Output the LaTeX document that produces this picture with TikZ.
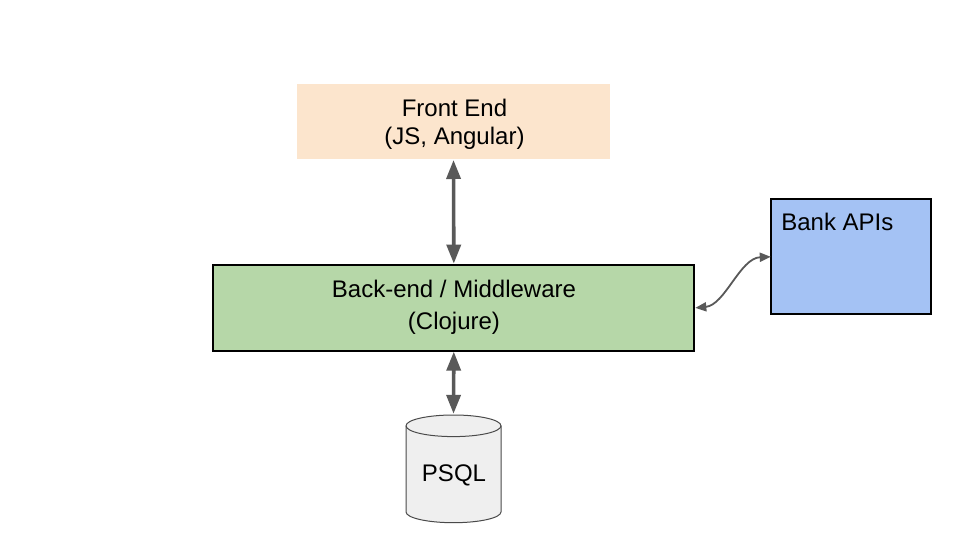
\documentclass[tikz,border=0pt]{standalone}
\usepackage{fontspec}
\setmainfont{Liberation Sans}
\usetikzlibrary{arrows.meta}
\definecolor{fecol}{HTML}{FCE5CD}
\definecolor{becol}{HTML}{B6D7A8}
\definecolor{bankcol}{HTML}{A4C2F4}
\definecolor{dbcol}{HTML}{EFEFEF}
\definecolor{arrcol}{HTML}{595959}
\definecolor{dbline}{HTML}{4A4A4A}
\tikzset{
  boxnode/.style={rectangle, inner sep=0pt, outer sep=0pt},
  txt/.style={inner sep=0pt, outer sep=0pt, font=\fontsize{24}{28}\selectfont, text=black},
  bigarrow/.style={draw=arrcol, line width=3.6pt, {Triangle[length=19pt,width=14pt]}-{Triangle[length=19pt,width=14pt]}},
  smallarrow/.style={draw=arrcol, line width=1.8pt, {Triangle[length=11pt,width=9pt]}-{Triangle[length=11pt,width=9pt]}},
}
\begin{document}
\begin{tikzpicture}[x=1pt,y=-1pt]
\useasboundingbox[fill=white] (0,0) rectangle (960,540);
% Front end
\node[boxnode, fill=fecol, minimum width=313pt, minimum height=75pt] (fe) at (453.5,121.5) {};
\node[txt, anchor=base] (fet1) at (454.5,116.7) {Front End};
\node[txt, anchor=base] (fet2) at (454.5,145) {(JS, Angular)};
% Back end
\node[boxnode, fill=becol, draw=black, line width=2pt, minimum width=481pt, minimum height=85.5pt] (be) at (453.8,307.9) {};
\node[txt, anchor=base] (bet1) at (454,297.7) {Back-end / Middleware};
\node[txt, anchor=base] (bet2) at (454,329.5) {(Clojure)};
% Bank APIs
\node[boxnode, fill=bankcol, draw=black, line width=2pt, minimum width=160pt, minimum height=115pt] (bank) at (850.8,256.8) {};
\node[txt, anchor=base west] (bankt) at (781.3,230.7) {Bank APIs};
% Database cylinder
\node[boxnode, minimum width=95pt, minimum height=108pt] (db) at (453.5,468.8) {};
\fill[dbcol] (406,425.8) -- (406,511.9) arc[start angle=180,end angle=0,x radius=47.5,y radius=10.8]
   -- (501,425.8) arc[start angle=0,end angle=-180,x radius=47.5,y radius=10.8] -- cycle;
\draw[dbline, line width=1pt] (406,425.8) -- (406,511.9) arc[start angle=180,end angle=0,x radius=47.5,y radius=10.8]
   -- (501,425.8) arc[start angle=0,end angle=-180,x radius=47.5,y radius=10.8];
\draw[dbline, line width=1pt] (406,425.8) arc[start angle=180,end angle=0,x radius=47.5,y radius=10.8];
\node[txt, anchor=base] (dbt) at (454,481.7) {PSQL};
% Connectors
\draw[bigarrow] ([yshift=-1pt]fe.south) -- ([yshift=1.5pt]be.north);
\draw[bigarrow] ([yshift=-1pt]be.south) -- ([yshift=1pt]db.north);
\draw[smallarrow] ([xshift=1pt]be.east) .. controls (725,305) and (740,258) .. (bank.west);
\end{tikzpicture}
\end{document}
